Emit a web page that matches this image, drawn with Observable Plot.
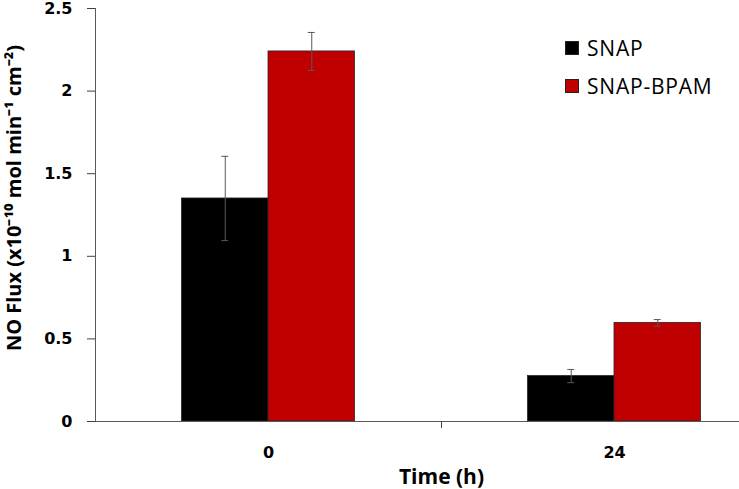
<!DOCTYPE html>
<html>
<head>
<meta charset="utf-8">
<script src="https://cdn.jsdelivr.net/npm/d3@7"></script>
<script src="https://cdn.jsdelivr.net/npm/@observablehq/plot@0.6"></script>
<style>
  html, body { margin: 0; padding: 0; background: #fff; }
  #wrap { position: relative; width: 739px; height: 489px; overflow: hidden; }
  #legend { position: absolute; left: 565px; top: 29px; font-family: "Open Sans", sans-serif; font-size: 21px; color: #000; letter-spacing: 0.8px; }
  .item { display: flex; align-items: center; height: 38px; }
  .sw { width: 14px; height: 14px; border: 1px solid #222; margin-right: 8px; box-sizing: border-box; }
</style>
</head>
<body>
<div id="wrap"></div>
<script>
const times = ["0", "24"];
const series = ["SNAP", "SNAP-BPAM"];
const colors = ["#000000", "#C00000"];
const snapMean = [1.35, 0.275];
const snapErr = [0.255, 0.04];
const bpamMean = [2.24, 0.597];
const bpamErr = [0.115, 0.02];
const yTicks = [0, 0.5, 1, 1.5, 2, 2.5];
const yLabel = "NO Flux (x10⁻¹⁰ mol min⁻¹ cm⁻²)";
const xLabel = "Time (h)";

const means = [snapMean, bpamMean];
const errs = [snapErr, bpamErr];
const slotsPerGroup = 4; // gap, bar, bar, gap
const rows = [];
times.forEach((t, ti) => {
  series.forEach((s, si) => {
    const x1 = ti * slotsPerGroup + 1 + si;
    rows.push({time: t, series: s, x1, x2: x1 + 1, xc: x1 + 0.5, value: means[si][ti], err: errs[si][ti]});
  });
});
const groupCenters = times.map((t, ti) => ti * slotsPerGroup + slotsPerGroup / 2);
const boundaries = times.slice(1).map((t, ti) => (ti + 1) * slotsPerGroup);
const xMid = slotsPerGroup * times.length / 2;
const cap = 0.04;
const errColor = "#595959";

const chart = Plot.plot({
  width: 739,
  height: 489,
  marginLeft: 95,
  marginRight: 0,
  marginTop: 8,
  marginBottom: 68,
  style: {fontFamily: "DejaVu Sans", fontWeight: "bold", fontSize: "16px", color: "#000", background: "#fff"},
  x: {domain: [0, slotsPerGroup * times.length], range: [95, 787]},
  y: {domain: [0, 2.5]},
  color: {domain: series, range: colors},
  marks: [
    Plot.rect(rows, {x1: "x1", x2: "x2", y1: 0, y2: "value", fill: "series", stroke: "#262626", strokeWidth: 0.8}),
    Plot.ruleX(rows, {x: "xc", y1: d => d.value - d.err, y2: d => d.value + d.err, stroke: errColor}),
    Plot.ruleY(rows, {x1: d => d.xc - cap, x2: d => d.xc + cap, y: d => d.value + d.err, stroke: errColor}),
    Plot.ruleY(rows, {x1: d => d.xc - cap, x2: d => d.xc + cap, y: d => d.value - d.err, stroke: errColor}),
    Plot.ruleY([0], {stroke: "#595959"}),
    Plot.ruleX([0], {stroke: "#595959"}),
    Plot.axisY({ticks: yTicks, tickSize: 8, tickPadding: 15, stroke: "#404040", tickFormat: d => String(d), label: null}),
    Plot.text([yLabel], {frameAnchor: "left", textAnchor: "middle", lineAnchor: "middle", rotate: -90, dx: -81, dy: -17, fontFamily: "Open Sans", fontSize: 20, fontWeight: "bold", fill: "#000"}),
    Plot.axisX({ticks: groupCenters, tickSize: 0, tickPadding: 25, tickFormat: d => times[groupCenters.indexOf(d)], label: null}),
    Plot.axisX({ticks: boundaries, tickSize: 7, stroke: "#404040", tickFormat: () => "", label: null}),
    Plot.text([xLabel], {x: () => xMid, frameAnchor: "bottom", dy: 62, fontFamily: "Open Sans", fontSize: 21, fontWeight: "bold", fill: "#000"})
  ]
});

const wrap = document.getElementById("wrap");
wrap.appendChild(chart);

const legend = document.createElement("div");
legend.id = "legend";
series.forEach((s, i) => {
  const item = document.createElement("div");
  item.className = "item";
  const sw = document.createElement("span");
  sw.className = "sw";
  sw.style.background = colors[i];
  const lab = document.createElement("span");
  lab.textContent = s;
  item.appendChild(sw);
  item.appendChild(lab);
  legend.appendChild(item);
});
wrap.appendChild(legend);
</script>
</body>
</html>
